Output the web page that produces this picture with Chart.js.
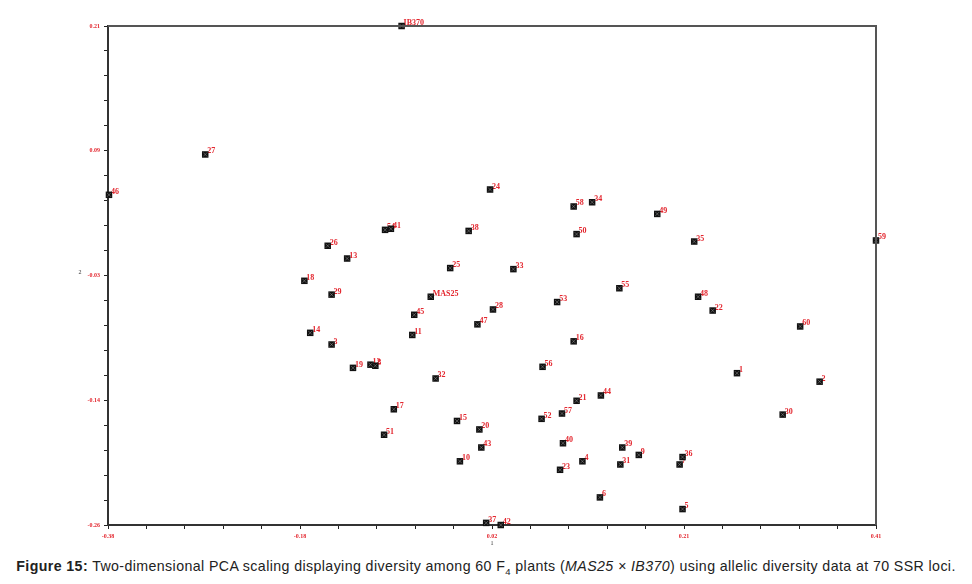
<!DOCTYPE html>
<html>
<head>
<meta charset="utf-8">
<script src="https://cdn.jsdelivr.net/npm/chart.js@4/dist/chart.umd.min.js"></script>
<style>
  html, body { margin: 0; padding: 0; background: #fff; }
  #wrap { position: relative; width: 972px; height: 584px; }
  #c { position: absolute; left: 0; top: 0; }
  #caption {
    position: absolute; left: 0; top: 558px; width: 972px; text-align: center;
    font-family: 'Liberation Sans', Arial, sans-serif; font-size: 14.2px; letter-spacing: 0.4px; color: #222;
    white-space: nowrap;
  }
  #caption sub { font-size: 9.5px; }
</style>
</head>
<body>
<div id="wrap">
  <canvas id="c" width="972" height="550"></canvas>
  <div id="caption"><b>Figure 15:</b> Two-dimensional PCA scaling displaying diversity among 60 F<sub>4</sub> plants (<i>MAS25 × IB370</i>) using allelic diversity data at 70 SSR loci.</div>
</div>
<script>
// points (PCA axis 1, axis 2) and their names
const names = ['IB370','MAS25','27','46','54','41','26','13','18','29','14','3','19','12','8','11','45','32',
  '17','51','15','20','43','10','37','42','24','58','34','49','38','50','35','25','33','55','48','53','28','22',
  '47','16','56','44','21','57','52','40','39','9','36','7','4','31','23','6','5','59','60','1','2','30']
const dim1 = [-0.078,-0.048,-0.280,-0.379,-0.095,-0.089,-0.154,-0.134,-0.178,-0.150,-0.172,-0.150,-0.128,-0.110,-0.105,-0.067,-0.065,-0.043,
  -0.086,-0.096,-0.021,0.002,0.004,-0.018,0.009,0.024,0.013,0.099,0.118,0.185,-0.009,0.102,0.223,-0.028,0.037,0.146,0.227,0.082,0.016,0.242,
  0.000,0.099,0.067,0.127,0.102,0.087,0.066,0.088,0.149,0.166,0.211,0.208,0.108,0.147,0.085,0.126,0.211,0.410,0.332,0.267,0.352,0.314]
const dim2 = [0.210,-0.045,0.089,0.051,0.018,0.019,0.003,-0.009,-0.030,-0.043,-0.079,-0.090,-0.112,-0.109,-0.110,-0.081,-0.062,-0.122,
  -0.151,-0.175,-0.162,-0.170,-0.187,-0.200,-0.258,-0.260,0.056,0.040,0.044,0.033,0.017,0.014,0.007,-0.018,-0.019,-0.037,-0.045,-0.050,-0.057,-0.058,
  -0.071,-0.087,-0.111,-0.138,-0.143,-0.155,-0.160,-0.183,-0.187,-0.194,-0.196,-0.203,-0.200,-0.203,-0.208,-0.234,-0.245,0.008,-0.073,-0.117,-0.125,-0.156]

// axes
const xMin = -0.38, xMax = 0.41
const yMin = -0.26, yMax = 0.21
const xTickLabels = ['-0.38','-0.18','0.02','0.21','0.41']
const yTickLabels = ['-0.26','-0.14','-0.03','0.09','0.21']
const nSteps = 20

function makeTicks (min, max) {
  let t = []
  for (let i = 0; i <= nSteps; i++) t.push({ value: min + (max - min) * i / nSteps })
  return t
}

// frame + axis names + point names
const extras = {
  id: 'extras',
  beforeDatasetsDraw (chart) {
    const ctx = chart.ctx
    const meta = chart.getDatasetMeta(0)
    ctx.save()
    ctx.fillStyle = '#e3262e'
    ctx.font = 'bold 8px "Liberation Serif"'
    ctx.textAlign = 'left'
    ctx.textBaseline = 'alphabetic'
    meta.data.forEach((p, i) => {
      ctx.fillText(names[i], p.x + 2, p.y - 1)
    })
    ctx.restore()
  },
  afterDatasetsDraw (chart) {
    // faint cross inside each marker, like the original symbol
    const ctx = chart.ctx
    const meta = chart.getDatasetMeta(0)
    ctx.save()
    ctx.strokeStyle = 'rgba(255,255,255,0.45)'
    ctx.lineWidth = 0.6
    meta.data.forEach(p => {
      ctx.beginPath()
      ctx.moveTo(p.x - 2, p.y - 2); ctx.lineTo(p.x + 2, p.y + 2)
      ctx.moveTo(p.x + 2, p.y - 2); ctx.lineTo(p.x - 2, p.y + 2)
      ctx.stroke()
    })
    ctx.restore()
  },
  afterDraw (chart) {
    const ctx = chart.ctx
    const a = chart.chartArea
    ctx.save()
    ctx.strokeStyle = '#555'
    ctx.lineWidth = 2
    ctx.beginPath()
    ctx.moveTo(a.left, a.top)
    ctx.lineTo(a.right, a.top)
    ctx.lineTo(a.right, a.bottom)
    ctx.stroke()
    ctx.fillStyle = '#333'
    ctx.font = '6px "Liberation Serif"'
    ctx.textAlign = 'center'
    ctx.textBaseline = 'middle'
    ctx.fillText('2', 80, (a.top + a.bottom) / 2 - 3)
    ctx.fillText('1', (a.left + a.right) / 2, a.bottom + 18)
    ctx.restore()
  }
}

new Chart(document.getElementById('c'), {
  type: 'scatter',
  data: {
    datasets: [{
      data: dim1.map((x, i) => ({ x: x, y: dim2[i] })),
      pointStyle: 'rect',
      radius: 4.6,
      backgroundColor: '#111',
      borderColor: '#111',
      borderWidth: 0,
      clip: false
    }]
  },
  options: {
    responsive: false,
    animation: false,
    layout: { padding: { left: 78, right: 96, top: 26, bottom: 0 } },
    plugins: { legend: { display: false }, tooltip: { enabled: false } },
    scales: {
      x: {
        type: 'linear', min: xMin, max: xMax,
        afterBuildTicks: s => { s.ticks = makeTicks(xMin, xMax) },
        afterFit: s => { s.height = 25 },
        grid: { drawOnChartArea: false, drawTicks: true, tickLength: 4, color: '#222', lineWidth: 1 },
        border: { display: true, color: '#333', width: 2 },
        ticks: {
          autoSkip: false, maxRotation: 0, padding: 4, color: '#e3262e',
          font: { size: 6, weight: 'bold', family: 'Liberation Serif' },
          callback: (v, i) => i % 5 === 0 ? xTickLabels[i / 5] : ''
        }
      },
      y: {
        type: 'linear', min: yMin, max: yMax,
        afterBuildTicks: s => { s.ticks = makeTicks(yMin, yMax) },
        afterFit: s => { s.width = 30 },
        grid: { drawOnChartArea: false, drawTicks: true, tickLength: 4, color: '#222', lineWidth: 1 },
        border: { display: true, color: '#333', width: 2 },
        ticks: {
          autoSkip: false, padding: 4, color: '#e3262e',
          font: { size: 6, weight: 'bold', family: 'Liberation Serif' },
          callback: (v, i) => i % 5 === 0 ? yTickLabels[i / 5] : ''
        }
      }
    }
  },
  plugins: [extras]
})
</script>
</body>
</html>
